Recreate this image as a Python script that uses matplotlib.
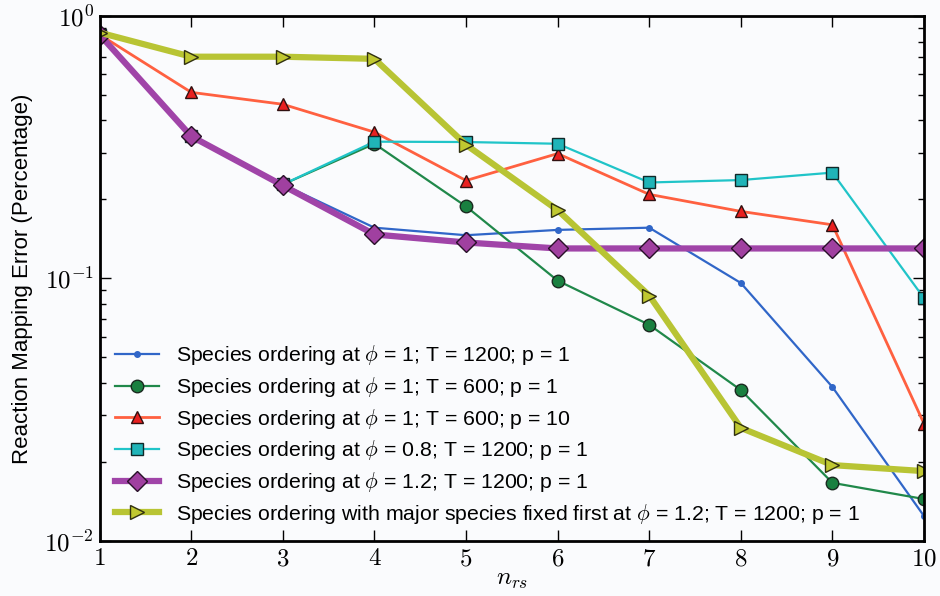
import numpy as np
import matplotlib
matplotlib.use("Agg")
import matplotlib.pyplot as plt
from matplotlib.ticker import FuncFormatter, LogLocator, FixedLocator

plt.rcParams['font.family'] = ['Liberation Sans', 'DejaVu Sans']
plt.rcParams['mathtext.fontset'] = 'cm'

# data
n_rs = [1, 2, 3, 4, 5, 6, 7, 8, 9, 10]
err_phi1_T1200_p1 = [0.85, 0.35, 0.228, 0.156, 0.146, 0.153, 0.156, 0.096, 0.0385, 0.0124]
err_phi1_T600_p1 = [0.85, 0.35, 0.228, 0.326, 0.188, 0.098, 0.0665, 0.0375, 0.0166, 0.0144]
err_phi1_T600_p10 = [0.85, 0.512, 0.461, 0.361, 0.236, 0.299, 0.209, 0.180, 0.160, 0.0279]
err_phi08_T1200_p1 = [0.85, 0.35, 0.228, 0.332, 0.331, 0.326, 0.232, 0.237, 0.253, 0.084]
err_phi12_T1200_p1 = [0.85, 0.348, 0.226, 0.147, 0.137, 0.130, 0.130, 0.130, 0.130, 0.130]
err_major_first = [0.865, 0.70, 0.70, 0.687, 0.323, 0.182, 0.086, 0.0269, 0.0194, 0.0184]

labels = [
    r'Species ordering at $\phi$ = 1; T = 1200; p = 1',
    r'Species ordering at $\phi$ = 1; T = 600; p = 1',
    r'Species ordering at $\phi$ = 1; T = 600; p = 10',
    r'Species ordering at $\phi$ = 0.8; T = 1200; p = 1',
    r'Species ordering at $\phi$ = 1.2; T = 1200; p = 1',
    r'Species ordering with major species fixed first at $\phi$ = 1.2; T = 1200; p = 1',
]

bg = '#fafbfd'
fig = plt.figure(figsize=(9.4, 5.96), dpi=100, facecolor=bg)
ax = fig.add_axes([0.106, 0.093, 0.877, 0.88], facecolor=bg)

ax.plot(n_rs, err_phi1_T1200_p1, color='#3066c8', lw=1.6, marker='o', ms=4,
        mec='#3066c8', label=labels[0])
ax.plot(n_rs, err_phi1_T600_p1, color='#20884a', lw=1.6, marker='o', ms=9,
        mfc='#1a8040', mec='#1a2a20', label=labels[1])
ax.plot(n_rs, err_phi1_T600_p10, color='#ff6040', lw=2, marker='^', ms=9,
        mfc='#e82020', mec='#301010', label=labels[2])
ax.plot(n_rs, err_phi08_T1200_p1, color='#20c4c8', lw=1.6, marker='s', ms=9,
        mfc='#20b4b8', mec='#102828', label=labels[3])
ax.plot(n_rs, err_phi12_T1200_p1, color='#a044a8', lw=4.5, marker='D', ms=10,
        mfc='#a040a0', mec='#281028', label=labels[4])
ax.plot(n_rs, err_major_first, color='#b8c434', lw=4.5, marker='>', ms=10,
        mfc='#c0c830', mec='#303010', label=labels[5])

ax.set_yscale('log')
ax.set_xlim(1, 10)
ax.set_ylim(1e-2, 1e0)

ax.xaxis.set_major_locator(FixedLocator(n_rs))
ax.xaxis.set_major_formatter(FuncFormatter(lambda v, p: r'$%d$' % round(v)))
ax.yaxis.set_major_locator(FixedLocator([1e-2, 1e-1, 1e0]))
ax.yaxis.set_major_formatter(FuncFormatter(lambda v, p: r'$10^{%d}$' % round(np.log10(v))))
ax.yaxis.set_minor_locator(LogLocator(base=10, subs=np.arange(2, 10)))
ax.yaxis.set_minor_formatter(FuncFormatter(lambda v, p: ''))

ax.tick_params(axis='both', which='major', direction='in', length=8, width=1,
               top=True, right=True, labelsize=18, pad=4)
ax.tick_params(axis='both', which='minor', direction='in', length=4, width=1,
               top=True, right=True)
for s in ax.spines.values():
    s.set_linewidth(2)

ax.set_xlabel(r'$n_{rs}$', fontsize=18, labelpad=-2)
ax.set_ylabel('Reaction Mapping Error (Percentage)', fontsize=16, labelpad=8)

ax.legend(loc='lower left', frameon=False, fontsize=15.3, handlelength=2.1,
          labelspacing=0.36, borderaxespad=0.3, handletextpad=0.8)

fig.savefig('out.png', dpi=100, facecolor=bg)
